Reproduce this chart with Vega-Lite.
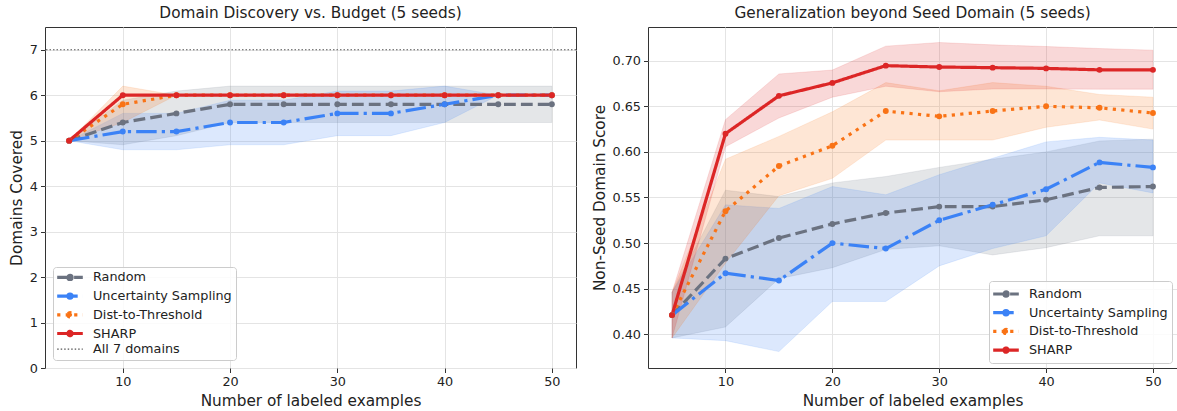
{
  "$schema": "https://vega.github.io/schema/vega-lite/v6.json",
  "background": "white",
  "padding": {"left": 8, "top": 5, "right": 0, "bottom": 5},
  "bounds": "flush",
  "spacing": 72,
  "datasets": {
    "cov": [
      {"series": "Random", "n": 5, "mean": 5, "lo": 5, "hi": 5},
      {"series": "Random", "n": 10, "mean": 5.4, "lo": 4.91, "hi": 5.89},
      {"series": "Random", "n": 15, "mean": 5.6, "lo": 5.11, "hi": 6.09},
      {"series": "Random", "n": 20, "mean": 5.8, "lo": 5.4, "hi": 6.2},
      {"series": "Random", "n": 25, "mean": 5.8, "lo": 5.4, "hi": 6.2},
      {"series": "Random", "n": 30, "mean": 5.8, "lo": 5.4, "hi": 6.2},
      {"series": "Random", "n": 35, "mean": 5.8, "lo": 5.4, "hi": 6.2},
      {"series": "Random", "n": 40, "mean": 5.8, "lo": 5.4, "hi": 6.2},
      {"series": "Random", "n": 45, "mean": 5.8, "lo": 5.4, "hi": 6.2},
      {"series": "Random", "n": 50, "mean": 5.8, "lo": 5.4, "hi": 6.2},
      {"series": "Uncertainty Sampling", "n": 5, "mean": 5, "lo": 5, "hi": 5},
      {"series": "Uncertainty Sampling", "n": 10, "mean": 5.2, "lo": 4.8, "hi": 5.6},
      {"series": "Uncertainty Sampling", "n": 15, "mean": 5.2, "lo": 4.8, "hi": 5.6},
      {"series": "Uncertainty Sampling", "n": 20, "mean": 5.4, "lo": 4.91, "hi": 5.89},
      {"series": "Uncertainty Sampling", "n": 25, "mean": 5.4, "lo": 4.91, "hi": 5.89},
      {"series": "Uncertainty Sampling", "n": 30, "mean": 5.6, "lo": 5.11, "hi": 6.09},
      {"series": "Uncertainty Sampling", "n": 35, "mean": 5.6, "lo": 5.11, "hi": 6.09},
      {"series": "Uncertainty Sampling", "n": 40, "mean": 5.8, "lo": 5.4, "hi": 6.2},
      {"series": "Uncertainty Sampling", "n": 45, "mean": 6, "lo": 6, "hi": 6},
      {"series": "Uncertainty Sampling", "n": 50, "mean": 6, "lo": 6, "hi": 6},
      {"series": "Dist-to-Threshold", "n": 5, "mean": 5, "lo": 5, "hi": 5},
      {"series": "Dist-to-Threshold", "n": 10, "mean": 5.8, "lo": 5.4, "hi": 6.2},
      {"series": "Dist-to-Threshold", "n": 15, "mean": 6, "lo": 6, "hi": 6},
      {"series": "Dist-to-Threshold", "n": 20, "mean": 6, "lo": 6, "hi": 6},
      {"series": "Dist-to-Threshold", "n": 25, "mean": 6, "lo": 6, "hi": 6},
      {"series": "Dist-to-Threshold", "n": 30, "mean": 6, "lo": 6, "hi": 6},
      {"series": "Dist-to-Threshold", "n": 35, "mean": 6, "lo": 6, "hi": 6},
      {"series": "Dist-to-Threshold", "n": 40, "mean": 6, "lo": 6, "hi": 6},
      {"series": "Dist-to-Threshold", "n": 45, "mean": 6, "lo": 6, "hi": 6},
      {"series": "Dist-to-Threshold", "n": 50, "mean": 6, "lo": 6, "hi": 6},
      {"series": "SHARP", "n": 5, "mean": 5, "lo": 5, "hi": 5},
      {"series": "SHARP", "n": 10, "mean": 6, "lo": 6, "hi": 6},
      {"series": "SHARP", "n": 15, "mean": 6, "lo": 6, "hi": 6},
      {"series": "SHARP", "n": 20, "mean": 6, "lo": 6, "hi": 6},
      {"series": "SHARP", "n": 25, "mean": 6, "lo": 6, "hi": 6},
      {"series": "SHARP", "n": 30, "mean": 6, "lo": 6, "hi": 6},
      {"series": "SHARP", "n": 35, "mean": 6, "lo": 6, "hi": 6},
      {"series": "SHARP", "n": 40, "mean": 6, "lo": 6, "hi": 6},
      {"series": "SHARP", "n": 45, "mean": 6, "lo": 6, "hi": 6},
      {"series": "SHARP", "n": 50, "mean": 6, "lo": 6, "hi": 6}
    ],
    "gen": [
      {"series": "Random", "n": 5, "mean": 0.421, "lo": 0.396, "hi": 0.446},
      {"series": "Random", "n": 10, "mean": 0.483, "lo": 0.408, "hi": 0.558},
      {"series": "Random", "n": 15, "mean": 0.5055, "lo": 0.461, "hi": 0.551},
      {"series": "Random", "n": 20, "mean": 0.521, "lo": 0.473, "hi": 0.566},
      {"series": "Random", "n": 25, "mean": 0.533, "lo": 0.493, "hi": 0.573},
      {"series": "Random", "n": 30, "mean": 0.54, "lo": 0.497, "hi": 0.583},
      {"series": "Random", "n": 35, "mean": 0.54, "lo": 0.487, "hi": 0.592},
      {"series": "Random", "n": 40, "mean": 0.5475, "lo": 0.495, "hi": 0.6},
      {"series": "Random", "n": 45, "mean": 0.561, "lo": 0.508, "hi": 0.612},
      {"series": "Random", "n": 50, "mean": 0.562, "lo": 0.508, "hi": 0.614},
      {"series": "Uncertainty Sampling", "n": 5, "mean": 0.421, "lo": 0.396, "hi": 0.446},
      {"series": "Uncertainty Sampling", "n": 10, "mean": 0.467, "lo": 0.393, "hi": 0.542},
      {"series": "Uncertainty Sampling", "n": 15, "mean": 0.459, "lo": 0.381, "hi": 0.538},
      {"series": "Uncertainty Sampling", "n": 20, "mean": 0.5, "lo": 0.436, "hi": 0.562},
      {"series": "Uncertainty Sampling", "n": 25, "mean": 0.494, "lo": 0.436, "hi": 0.553},
      {"series": "Uncertainty Sampling", "n": 30, "mean": 0.525, "lo": 0.475, "hi": 0.575},
      {"series": "Uncertainty Sampling", "n": 35, "mean": 0.542, "lo": 0.494, "hi": 0.593},
      {"series": "Uncertainty Sampling", "n": 40, "mean": 0.559, "lo": 0.508, "hi": 0.611},
      {"series": "Uncertainty Sampling", "n": 45, "mean": 0.5885, "lo": 0.566, "hi": 0.616},
      {"series": "Uncertainty Sampling", "n": 50, "mean": 0.583, "lo": 0.555, "hi": 0.613},
      {"series": "Dist-to-Threshold", "n": 5, "mean": 0.421, "lo": 0.396, "hi": 0.446},
      {"series": "Dist-to-Threshold", "n": 10, "mean": 0.535, "lo": 0.478, "hi": 0.592},
      {"series": "Dist-to-Threshold", "n": 15, "mean": 0.5845, "lo": 0.552, "hi": 0.617},
      {"series": "Dist-to-Threshold", "n": 20, "mean": 0.6067, "lo": 0.571, "hi": 0.644},
      {"series": "Dist-to-Threshold", "n": 25, "mean": 0.6448, "lo": 0.613, "hi": 0.676},
      {"series": "Dist-to-Threshold", "n": 30, "mean": 0.639, "lo": 0.613, "hi": 0.667},
      {"series": "Dist-to-Threshold", "n": 35, "mean": 0.6448, "lo": 0.613, "hi": 0.676},
      {"series": "Dist-to-Threshold", "n": 40, "mean": 0.65, "lo": 0.627, "hi": 0.672},
      {"series": "Dist-to-Threshold", "n": 45, "mean": 0.6484, "lo": 0.635, "hi": 0.663},
      {"series": "Dist-to-Threshold", "n": 50, "mean": 0.6426, "lo": 0.625, "hi": 0.66},
      {"series": "SHARP", "n": 5, "mean": 0.421, "lo": 0.396, "hi": 0.446},
      {"series": "SHARP", "n": 10, "mean": 0.62, "lo": 0.6056, "hi": 0.6354},
      {"series": "SHARP", "n": 15, "mean": 0.6615, "lo": 0.6372, "hi": 0.6855},
      {"series": "SHARP", "n": 20, "mean": 0.6757, "lo": 0.66, "hi": 0.6898},
      {"series": "SHARP", "n": 25, "mean": 0.6946, "lo": 0.672, "hi": 0.716},
      {"series": "SHARP", "n": 30, "mean": 0.6931, "lo": 0.666, "hi": 0.72},
      {"series": "SHARP", "n": 35, "mean": 0.6924, "lo": 0.669, "hi": 0.7174},
      {"series": "SHARP", "n": 40, "mean": 0.6916, "lo": 0.669, "hi": 0.7156},
      {"series": "SHARP", "n": 45, "mean": 0.69, "lo": 0.6688, "hi": 0.7134},
      {"series": "SHARP", "n": 50, "mean": 0.69, "lo": 0.6688, "hi": 0.7116}
    ],
    "ref": [{"series": "All 7 domains", "y": 7}]
  },
  "config": {
    "font": "DejaVu Sans",
    "view": {"stroke": "#333333", "strokeWidth": 1},
    "axis": {
      "grid": true, "gridColor": "#e4e4e4", "gridWidth": 1, "domain": false,
      "tickColor": "#333333", "tickSize": 4.5, "tickWidth": 1,
      "labelFont": "DejaVu Sans", "labelFontSize": 12.8, "labelColor": "#222222", "labelPadding": 3,
      "labelFlush": false, "labelOverlap": false,
      "titleFont": "DejaVu Sans", "titleFontSize": 15.3, "titleFontWeight": "normal", "titleColor": "#222222", "titlePadding": 5
    },
    "legend": {
      "title": null, "labelFont": "DejaVu Sans", "labelFontSize": 12.8, "labelColor": "#222222",
      "symbolSize": 196, "symbolStrokeWidth": 3.2, "labelOffset": 8, "padding": 4, "rowPadding": 0.7,
      "strokeColor": "#cccccc", "fillColor": "rgba(255,255,255,0.85)", "cornerRadius": 3, "symbolType": "stroke",
      "labelLimit": 300
    },
    "title": {"font": "DejaVu Sans", "fontSize": 15.3, "fontWeight": "normal", "color": "#222222", "anchor": "middle", "frame": "group", "offset": 6}
  },
  "hconcat": [
    {
      "width": 531, "height": 341,
      "title": {"text": "Domain Discovery vs. Budget (5 seeds)"},
      "layer": [
        {
          "data": {"name": "cov"},
          "mark": {"type": "area", "fillOpacity": 0.18, "strokeOpacity": 0.12, "strokeWidth": 1},
          "encoding": {
            "x": {"field": "n", "type": "quantitative", "title": "Number of labeled examples",
                  "scale": {"domain": [2.75, 52.25], "nice": false, "zero": false},
                  "axis": {"values": [10, 20, 30, 40, 50]}},
            "y": {"field": "lo", "type": "quantitative", "title": "Domains Covered",
                  "scale": {"domain": [0, 7.5], "nice": false, "zero": false},
                  "axis": {"values": [0, 1, 2, 3, 4, 5, 6, 7]}},
            "y2": {"field": "hi"},
            "fill": {"field": "series", "type": "nominal", "legend": null,
                     "scale": {"domain": ["Random", "Uncertainty Sampling", "Dist-to-Threshold", "SHARP", "zz-fill"], "range": ["#6b7280", "#3b82f6", "#f97316", "#dc2626", "#000000"]}},
            "stroke": {"field": "series", "type": "nominal", "legend": null,
                       "scale": {"domain": ["Random", "Uncertainty Sampling", "Dist-to-Threshold", "SHARP", "zz-stroke"], "range": ["#6b7280", "#3b82f6", "#f97316", "#dc2626", "#000000"]}}
          }
        },
        {
          "data": {"name": "ref"},
          "mark": {"type": "rule", "strokeWidth": 1.2},
          "encoding": {
            "y": {"field": "y", "type": "quantitative", "title": "Domains Covered"},
            "color": {"field": "series", "type": "nominal"},
            "strokeDash": {"field": "series", "type": "nominal"}
          }
        },
        {
          "data": {"name": "cov"},
          "mark": {"type": "line", "strokeWidth": 3.2},
          "encoding": {
            "x": {"field": "n", "type": "quantitative", "title": "Number of labeled examples"},
            "y": {"field": "mean", "type": "quantitative", "title": "Domains Covered"},
            "color": {"field": "series", "type": "nominal",
                      "scale": {"domain": ["Random", "Uncertainty Sampling", "Dist-to-Threshold", "SHARP", "All 7 domains"], "range": ["#6b7280", "#3b82f6", "#f97316", "#dc2626", "#555555"]},
                      "legend": {"orient": "bottom-left", "offset": 8,
                        "encode": {
                          "symbols": {"update": {
                            "x": {"value": 13},
                            "shape": {"signal": "datum.value === 'All 7 domains' ? 'M-1.83,0H1.83' : 'M-1.83,0H1.83M-0.3,0A0.3,0.3 0 1,0 0.3,0A0.3,0.3 0 1,0 -0.3,0Z'"},
                            "fill": {"signal": "datum.value === 'Random' ? '#6b7280' : datum.value === 'Uncertainty Sampling' ? '#3b82f6' : datum.value === 'Dist-to-Threshold' ? '#f97316' : datum.value === 'SHARP' ? '#dc2626' : 'transparent'"},
                            "strokeWidth": {"signal": "datum.value === 'All 7 domains' ? 1.2 : 3.2"}
                          }},
                          "labels": {"update": {"x": {"value": 36}}}
                        }}},
            "strokeDash": {"field": "series", "type": "nominal",
                           "scale": {"domain": ["Random", "Uncertainty Sampling", "Dist-to-Threshold", "SHARP", "All 7 domains"], "range": [[11.8, 5.1], [20.5, 5.1, 3.2, 5.1], [3.2, 5.3], [1, 0], [1.5, 2]]},
                           "legend": {"orient": "bottom-left", "offset": 8}}
          }
        },
        {
          "data": {"name": "cov"},
          "mark": {"type": "point", "filled": true, "size": 35, "opacity": 1},
          "encoding": {
            "x": {"field": "n", "type": "quantitative", "title": "Number of labeled examples"},
            "y": {"field": "mean", "type": "quantitative", "title": "Domains Covered"},
            "fill": {"field": "series", "type": "nominal", "legend": null}
          }
        }
      ]
    },
    {
      "width": 529, "height": 341,
      "title": {"text": "Generalization beyond Seed Domain (5 seeds)"},
      "layer": [
        {
          "data": {"name": "gen"},
          "mark": {"type": "area", "fillOpacity": 0.18, "strokeOpacity": 0.12, "strokeWidth": 1},
          "encoding": {
            "x": {"field": "n", "type": "quantitative", "title": "Number of labeled examples",
                  "scale": {"domain": [2.75, 52.25], "nice": false, "zero": false},
                  "axis": {"values": [10, 20, 30, 40, 50]}},
            "y": {"field": "lo", "type": "quantitative", "title": "Non-Seed Domain Score",
                  "scale": {"domain": [0.363, 0.737], "nice": false, "zero": false},
                  "axis": {"values": [0.4, 0.45, 0.5, 0.55, 0.6, 0.65, 0.7], "format": ".2f"}},
            "y2": {"field": "hi"},
            "fill": {"field": "series", "type": "nominal", "legend": null,
                     "scale": {"domain": ["Random", "Uncertainty Sampling", "Dist-to-Threshold", "SHARP", "zz-fill"], "range": ["#6b7280", "#3b82f6", "#f97316", "#dc2626", "#000000"]}},
            "stroke": {"field": "series", "type": "nominal", "legend": null,
                       "scale": {"domain": ["Random", "Uncertainty Sampling", "Dist-to-Threshold", "SHARP", "zz-stroke"], "range": ["#6b7280", "#3b82f6", "#f97316", "#dc2626", "#000000"]}}
          }
        },
        {
          "data": {"name": "gen"},
          "mark": {"type": "line", "strokeWidth": 3.2},
          "encoding": {
            "x": {"field": "n", "type": "quantitative", "title": "Number of labeled examples"},
            "y": {"field": "mean", "type": "quantitative", "title": "Non-Seed Domain Score"},
            "color": {"field": "series", "type": "nominal",
                      "scale": {"domain": ["Random", "Uncertainty Sampling", "Dist-to-Threshold", "SHARP"], "range": ["#6b7280", "#3b82f6", "#f97316", "#dc2626"]},
                      "legend": {"orient": "bottom-right", "offset": 5,
                        "encode": {
                          "symbols": {"update": {
                            "x": {"value": 13},
                            "shape": {"signal": "'M-1.83,0H1.83M-0.3,0A0.3,0.3 0 1,0 0.3,0A0.3,0.3 0 1,0 -0.3,0Z'"},
                            "fill": {"signal": "datum.value === 'Random' ? '#6b7280' : datum.value === 'Uncertainty Sampling' ? '#3b82f6' : datum.value === 'Dist-to-Threshold' ? '#f97316' : '#dc2626'"},
                            "strokeWidth": {"value": 3.2}
                          }},
                          "labels": {"update": {"x": {"value": 36}}}
                        }}},
            "strokeDash": {"field": "series", "type": "nominal",
                           "scale": {"domain": ["Random", "Uncertainty Sampling", "Dist-to-Threshold", "SHARP"], "range": [[11.8, 5.1], [20.5, 5.1, 3.2, 5.1], [3.2, 5.3], [1, 0]]},
                           "legend": {"orient": "bottom-right", "offset": 5}}
          }
        },
        {
          "data": {"name": "gen"},
          "mark": {"type": "point", "filled": true, "size": 35, "opacity": 1},
          "encoding": {
            "x": {"field": "n", "type": "quantitative", "title": "Number of labeled examples"},
            "y": {"field": "mean", "type": "quantitative", "title": "Non-Seed Domain Score"},
            "fill": {"field": "series", "type": "nominal", "legend": null}
          }
        }
      ]
    }
  ],
  "resolve": {
    "scale": {"x": "independent", "y": "independent", "color": "independent", "strokeDash": "independent", "fill": "independent", "stroke": "independent"},
    "legend": {"color": "independent", "strokeDash": "independent", "fill": "independent", "stroke": "independent"}
  }
}
